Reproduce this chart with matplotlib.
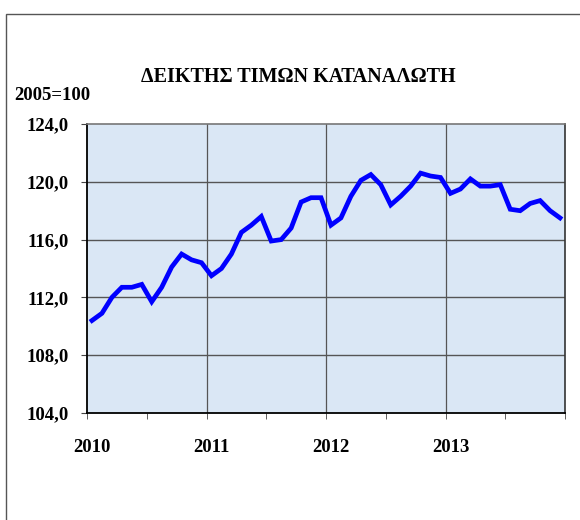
import matplotlib
matplotlib.use("Agg")
import matplotlib.pyplot as plt
import numpy as np
from matplotlib.patches import Rectangle

title = "ΔΕΙΚΤΗΣ ΤΙΜΩΝ ΚΑΤΑΝΑΛΩΤΗ"
base_label = "2005=100"
years = ["2010", "2011", "2012", "2013"]
cpi = [110.4, 110.9, 112.0, 112.7, 112.7, 112.9, 111.7, 112.7, 114.1, 115.0, 114.6, 114.4,
       113.5, 114.0, 115.0, 116.5, 117.0, 117.6, 115.9, 116.0, 116.8, 118.6, 118.9, 118.9,
       117.0, 117.5, 119.0, 120.1, 120.5, 119.8, 118.4, 119.0, 119.7, 120.6, 120.4, 120.3,
       119.2, 119.5, 120.2, 119.7, 119.7, 119.8, 118.1, 118.0, 118.5, 118.7, 118.0, 117.5]
y_ticks = [104, 108, 112, 116, 120, 124]

plt.rcParams['font.family'] = ['Liberation Serif', 'DejaVu Serif']

fig = plt.figure(figsize=(5.8, 5.2), dpi=100)
fig.patch.set_facecolor('white')

# outer frame
fig.patches.append(Rectangle((6/580, -0.1), 1.2, 1 - 14/520 + 0.1, transform=fig.transFigure,
                             fill=False, edgecolor='#555555', linewidth=1.0))

ax = fig.add_axes([87/580, 1 - 413/520, (565-87)/580, (413-124)/520])
ax.set_facecolor('#dae7f5')

x = np.arange(len(cpi))
ax.plot(x, cpi, color='#0000ff', linewidth=3.4, solid_joinstyle='miter', zorder=3)

ax.set_xlim(-0.5, len(cpi) - 0.5)
ax.set_ylim(y_ticks[0], y_ticks[-1])
ax.set_yticks(y_ticks)
ax.set_yticklabels([f"{v:.1f}".replace('.', ',') for v in y_ticks],
                   fontsize=13.5, fontweight='bold')

ax.set_xticks([i * 12 for i in range(len(years))])
ax.set_xticklabels(years, fontsize=13.5, fontweight='bold')
ax.set_xticks(np.arange(-0.5, len(cpi), 6), minor=True)
ax.tick_params(axis='x', which='major', length=0, pad=19)
ax.tick_params(axis='x', which='minor', length=4, direction='out', color='#444444')
ax.tick_params(axis='y', length=4, direction='out', pad=9, color='#444444')

for yv in y_ticks[1:-1]:
    ax.axhline(yv, color='#555555', linewidth=1.0, zorder=2)
for xv in [11.5, 23.5, 35.5]:
    ax.axvline(xv, color='#555555', linewidth=0.9, zorder=2)

ax.spines['left'].set_color('black')
ax.spines['left'].set_linewidth(1.3)
ax.spines['bottom'].set_color('black')
ax.spines['bottom'].set_linewidth(1.3)
ax.spines['top'].set_color('#777777')
ax.spines['top'].set_linewidth(1.2)
ax.spines['right'].set_color('#333333')
ax.spines['right'].set_linewidth(1.2)

fig.text(298/580, 1 - 77/520, title, ha='center', va='center', fontsize=14.5, fontweight='bold')
fig.text(52/580, 1 - 96/520, base_label, ha='center', va='center', fontsize=13.5, fontweight='bold')

fig.savefig('out.png', dpi=100)
